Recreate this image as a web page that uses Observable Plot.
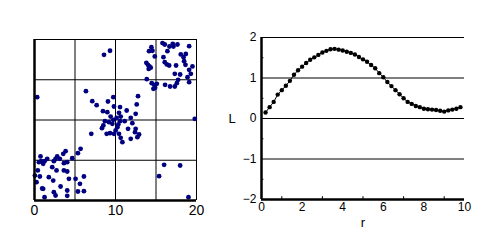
<!DOCTYPE html>
<html>
<head>
<meta charset="utf-8">
<script src="https://cdn.jsdelivr.net/npm/d3@7"></script>
<script src="https://cdn.jsdelivr.net/npm/@observablehq/plot@0.6"></script>
<style>
  html, body { margin: 0; padding: 0; background: #fff; }
  #wrap { position: relative; width: 500px; height: 240px; background: #fff; overflow: hidden; }
  #left { position: absolute; left: 0; top: 0; }
  #right { position: absolute; left: 220px; top: 0; }
</style>
</head>
<body>
<div id="wrap"><div id="left"></div><div id="right"></div></div>
<script>
// ---- Left panel: point pattern (x, y) ----
const px = [8.58, 9.32,
  14.43, 14.14, 14.56, 14.85, 13.81, 14.0, 14.19, 14.1, 14.35, 13.86, 14.47, 14.76, 14.68, 14.89, 15.1,
  15.8, 16.08, 16.41, 16.66, 17.07, 17.15, 17.65, 19.09, 15.92, 16.08, 16.33, 16.62, 17.48, 18.06, 18.4,
  18.68, 18.47, 18.64, 19.5, 19.09, 17.32, 17.98, 17.73, 17.57, 17.32, 16.74, 16.12, 18.89, 19.09, 19.3,
  6.35, 7.13, 7.67, 9.07, 9.73, 8.45, 8.99, 9.81, 10.56, 10.43, 11.38, 12.78, 12.62, 12.49, 9.4, 10.14,
  10.64, 8.7, 9.2, 9.73, 9.61, 10.35, 10.56, 11.13, 11.88, 12.08, 8.5, 8.33, 10.23, 10.02, 11.55, 12.49,
  7.01, 8.91, 9.32, 9.81, 10.43, 10.64, 10.85, 11.88, 12.91, 12.7, 12.41, 0.33, 19.79,
  5.69, 5.36, 4.66, 3.84, 3.55, 3.13, 2.8, 2.6, 2.39, 1.57, 1.24, 0.74, 0.82, 1.07, 0.54, 3.63, 4.04,
  0.41, 0.66, 0.25, 2.19, 2.72, 2.31, 1.77, 1.07, 1.24, 0.95, 2.39, 2.6, 3.22, 4.04, 4.25, 4.04, 4.04,
  5.07, 5.61, 5.36, 6.1, 6.1, 3.63, 0.05,
  16.0, 17.98, 15.38, 19.01];
const py = [18.1, 18.6,
  19.05, 18.55, 18.6, 17.9, 17.1, 16.85, 16.65, 16.35, 16.5, 15.07, 14.58, 14.37, 13.87, 14.0, 14.5,
  19.55, 19.38, 18.55, 19.13, 19.46, 19.13, 19.38, 19.17, 17.8, 17.18, 16.9, 16.77, 16.77, 18.14, 17.8,
  18.2, 17.3, 16.85, 16.65, 16.23, 15.73, 15.65, 14.99, 14.58, 14.16, 14.16, 14.37, 15.32, 14.7, 15.73,
  13.58, 12.34, 11.84, 12.3, 12.84, 11.1, 10.97, 11.68, 11.6, 10.89, 11.18, 12.96, 11.93, 10.77, 10.43, 10.27,
  10.43, 9.86, 9.73, 10.02, 9.52, 9.44, 9.86, 9.86, 10.27, 9.61, 9.32, 8.99, 9.11, 8.7, 8.9, 8.9,
  8.28, 8.28, 8.36, 8.28, 8.28, 7.78, 7.25, 7.66, 8.2, 7.87, 8.49, 12.84, 10.14,
  6.42, 5.88, 5.26, 6.13, 5.8, 5.18, 5.47, 5.18, 4.89, 5.18, 4.89, 5.47, 4.89, 4.55, 4.76, 4.64, 4.76,
  3.73, 2.98, 2.28, 4.14, 3.73, 2.48, 2.9, 1.45, 0.41, 1.49, 1.04, 0.62, 1.74, 3.6, 2.69, 1.24, 0.58,
  2.69, 2.07, 1.12, 1.16, 2.98, 3.73, 3.1,
  4.43, 4.35, 3.02, 0.41];
const leftGrid = [5, 10, 15, 20];
const leftXTicks = [0, 10, 20];

// ---- Right panel: L function ----
const rVals = [0.2,0.4,0.6,0.8,1.0,1.2,1.4,1.6,1.8,2.0,2.2,2.4,2.6,2.8,3.0,3.2,3.4,3.6,3.8,4.0,
  4.2,4.4,4.6,4.8,5.0,5.2,5.4,5.6,5.8,6.0,6.2,6.4,6.6,6.8,7.0,7.2,7.4,7.6,7.8,8.0,
  8.2,8.4,8.6,8.8,9.0,9.2,9.4,9.6,9.8];
const LVals = [0.15,0.28,0.41,0.59,0.70,0.81,0.93,1.08,1.19,1.28,1.37,1.45,1.51,1.57,1.63,1.67,1.71,1.72,1.70,1.68,
  1.65,1.62,1.58,1.52,1.46,1.40,1.32,1.24,1.12,1.02,0.90,0.80,0.70,0.60,0.50,0.41,0.36,0.31,0.28,0.24,
  0.23,0.22,0.21,0.19,0.17,0.20,0.22,0.24,0.28];
const rightXTicks = [0, 2, 4, 6, 8, 10];
const rightYTicks = [-2, -1, 0, 1, 2];
const rightGrid = [-1, 0, 1, 2];
const rightMinorX = [1, 3, 5, 7, 9];
const rightMinorY = [-1.5, -0.5, 0.5, 1.5];
const xLabel = "r";
const yLabel = "L";

const pts = px.map((x, i) => ({x, y: py[i]}));
const curve = rVals.map((r, i) => ({r, L: LVals[i]}));

const left = Plot.plot({
  width: 220, height: 240,
  marginLeft: 34, marginRight: 24, marginTop: 39, marginBottom: 40,
  style: {fontFamily: "'Liberation Sans', Arial, sans-serif", fontSize: "14px", color: "#000", background: "#fff"},
  x: {domain: [0, 20]},
  y: {domain: [0, 20], axis: null},
  marks: [
    Plot.ruleX(leftGrid, {stroke: "#000", strokeWidth: 1}),
    Plot.ruleY(leftGrid, {stroke: "#000", strokeWidth: 1}),
    Plot.dot(pts, {x: "x", y: "y", r: 2.4, fill: "#000080", stroke: "none"}),
    Plot.ruleX([0], {stroke: "#000", strokeWidth: 2.5}),
    Plot.ruleY([0], {stroke: "#000", strokeWidth: 2.5}),
    Plot.axisX(leftXTicks, {tickSize: 0, tickPadding: 5, label: null, fontSize: 14})
  ]
});
document.getElementById("left").appendChild(left);

const right = Plot.plot({
  width: 280, height: 240,
  marginLeft: 41, marginRight: 36, marginTop: 37, marginBottom: 41,
  style: {fontFamily: "'Liberation Sans', Arial, sans-serif", fontSize: "12px", color: "#000", background: "#fff"},
  x: {domain: [0, 10]},
  y: {domain: [-2, 2]},
  marks: [
    Plot.ruleY(rightGrid, {stroke: "#000", strokeWidth: 1}),
    Plot.ruleX(rightMinorX, {y1: -2, y2: -1.93, stroke: "#000"}),
    Plot.ruleY(rightMinorY, {x1: 0, x2: 0.12, stroke: "#000"}),
    Plot.line(curve, {x: "r", y: "L", stroke: "#000", strokeWidth: 1}),
    Plot.dot(curve, {x: "r", y: "L", r: 2.2, fill: "#000", stroke: "none"}),
    Plot.ruleX([0], {stroke: "#000", strokeWidth: 2.5}),
    Plot.ruleY([-2], {stroke: "#000", strokeWidth: 2.5}),
    Plot.axisX(rightXTicks, {tickSize: 0, tickPadding: 3, label: null, fontSize: 12}),
    Plot.axisY(rightYTicks, {tickSize: 0, tickPadding: 5, label: null, fontSize: 12}),
    Plot.text([xLabel], {text: d => d, frameAnchor: "bottom", dy: 27, fontSize: 13}),
    Plot.text([yLabel], {text: d => d, frameAnchor: "left", dx: -33, fontSize: 13})
  ]
});
document.getElementById("right").appendChild(right);
</script>
</body>
</html>
